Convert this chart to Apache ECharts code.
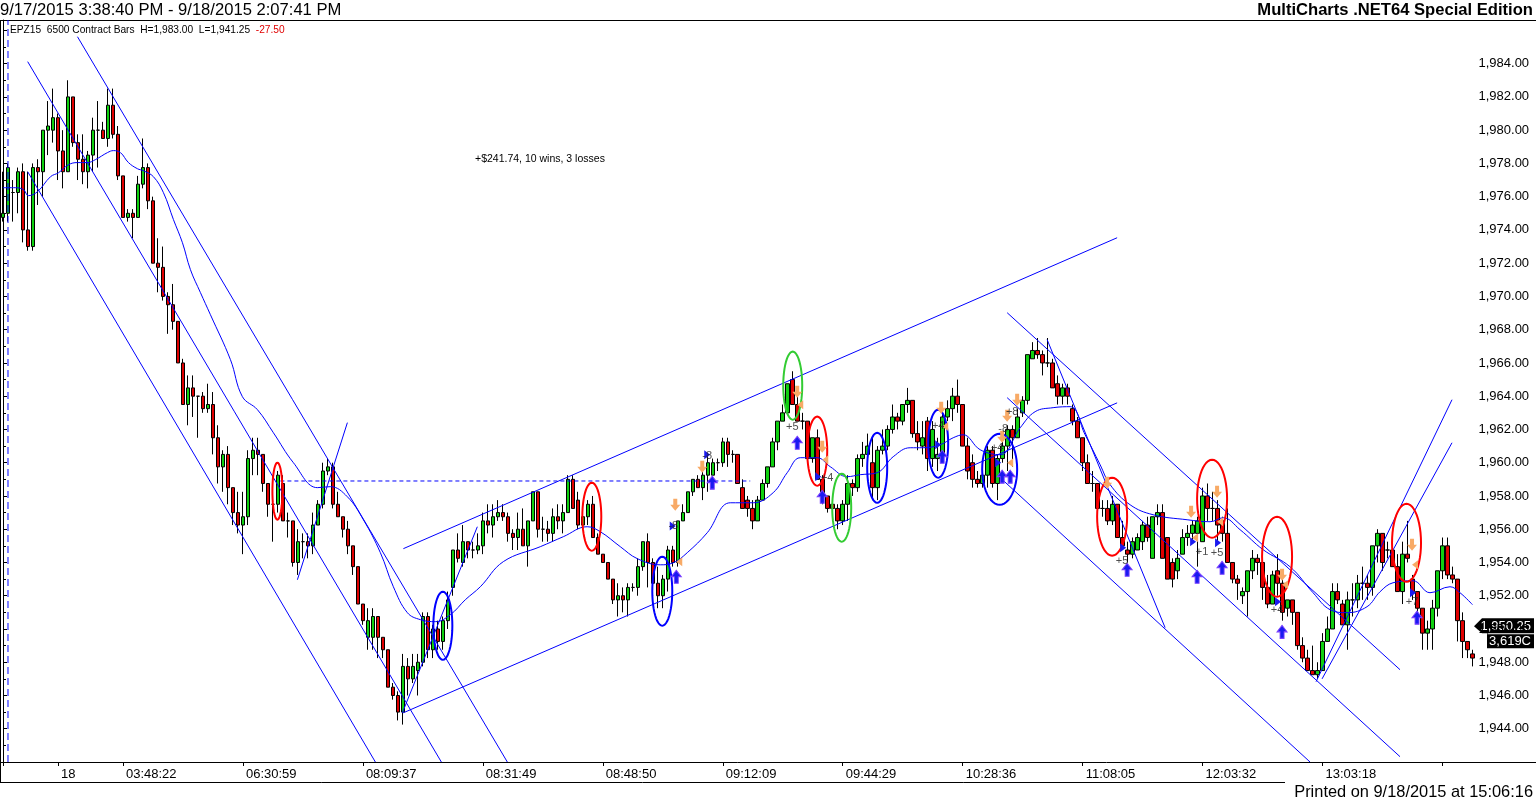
<!DOCTYPE html>
<html><head><meta charset="utf-8">
<script src="https://cdn.jsdelivr.net/npm/echarts@6/dist/echarts.min.js"></script>
<style>html,body{margin:0;padding:0;background:#fff;}#c{width:1536px;height:801px;}</style>
</head><body><div id="c"></div>
<script>
// ---------- DATA ----------
const opens = [1974.75,1975,1976.25,1976.25,1977.5,1974,1973,1977.75,1977.5,1980,
1980,1980.75,1978.75,1977.5,1982,1979.25,1978.25,1977.5,1978.5,1980,
1980,1979.5,1981.5,1979.75,1977.25,1974.75,1975,1974.75,1976.75,1977.75,
1975.75,1972,1971.75,1970,1969.5,1968.5,1966,1963.5,1964.5,1964,
1964,1963.25,1963.5,1961.5,1959.75,1960.5,1958.5,1957,1956.25,1956.75,
1960.25,1960.75,1960.5,1958.75,1957.5,1957.5,1958.75,1956.5,1956.5,1954,
1955.25,1955.25,1955,1956.25,1957.5,1959.5,1959.75,1957.5,1956.75,1956,
1955,1953.75,1951.5,1949.5,1949.5,1950.75,1949.5,1948.75,1946.5,1946,
1945,1947.75,1947,1947.5,1948,1950.75,1948.75,1950,1949.25,1950.5,
1952.5,1954.75,1954,1955.25,1954.75,1954.75,1955,1956.5,1956.25,1956.75,
1957,1956.75,1955.75,1955.5,1956,1955,1956.5,1958.25,1956,1956,
1955.75,1956.75,1956.5,1957,1959,1957.75,1956.25,1956.75,1957.5,1955.5,
1954.5,1954,1953,1951.75,1952,1951.75,1952.5,1952.5,1953.75,1955.25,
1954,1952.75,1952,1953,1954.75,1954,1956.5,1957,1958.25,1959,
1958.5,1959.25,1959.25,1960,1960,1961.25,1960.5,1960.5,1958.5,1957.75,
1957.25,1956.5,1957.75,1958.75,1959.75,1961.25,1962.5,1963,1965,1963.5,
1962.5,1962.5,1960.25,1961.5,1959,1958,1957.5,1957.25,1956.5,1957.5,
1958.75,1958.5,1960.25,1960.5,1960,1958.5,1960.75,1961,1962,1962.75,
1962.5,1963.5,1963.75,1961.75,1961,1962.5,1960.25,1960.25,1960.5,1962.75,
1963.25,1964,1963.5,1961,1960,1959,1958.75,1959.25,1960.75,1958.75,
1960.25,1961,1962,1961.5,1963,1963.75,1966.25,1966.75,1966.5,1966,
1966,1964.75,1964,1964.5,1963.25,1962.5,1961.5,1960,1958.75,1958.75,
1957.25,1957.25,1956.5,1957.5,1955.5,1954.75,1954.5,1954.75,1955.25,1956.25,
1954.25,1956.75,1957,1955.5,1954,1953.5,1954.5,1955.5,1955.75,1955.75,
1955.25,1958,1957.25,1957.25,1956.5,1955.75,1954,1953,1952,1952.25,
1953.5,1954.25,1954,1952.5,1951.5,1953.5,1952.75,1951.25,1951.75,1951,
1949,1948.25,1947.5,1947.25,1947.5,1949.25,1950,1952.25,1951.5,1950.25,
1951.75,1951.75,1952.75,1952.75,1952.5,1955,1955.75,1954.75,1954.75,1953.75,
1952.25,1954.5,1953,1952.25,1951.25,1949.75,1950,1951.25,1953.5,1955,
1953.25,1953,1950.5,1949.25,1948.5];
const highs = [1977.5,1978,1977,1977.75,1978,1977.5,1978,1978.25,1980,1981.75,
1982.5,1981,1980,1983,1982,1979.75,1979.75,1978.75,1980.75,1981.75,
1980.5,1982.5,1982.5,1980.25,1977.25,1975.25,1975.25,1977.25,1979.5,1978,
1976,1973.5,1973,1970.25,1970.75,1968.5,1966.25,1965.25,1965.25,1964,
1964.25,1964.75,1964.25,1962.25,1960.75,1961,1958.5,1958.25,1958.25,1960.75,
1961.5,1961.5,1960.5,1958.75,1959.25,1959.5,1959.25,1957,1956.5,1956,
1955.75,1955.75,1957,1957.75,1960,1960.25,1960,1958.25,1956.75,1956.5,
1955,1953.75,1951.5,1951.25,1951.25,1950.75,1949.5,1948.75,1946.75,1946.25,
1948.5,1948.25,1948.5,1948.5,1951,1951,1950.25,1950.5,1950.75,1952.25,
1954.75,1955.75,1956.25,1955.25,1955.25,1955.75,1957,1957.5,1957.5,1957.75,
1957.5,1957,1956,1957,1957.25,1956.5,1958.25,1958.25,1956.75,1956.5,
1957.25,1957.5,1957.5,1959.25,1959.25,1958.25,1957,1957.75,1958,1955.75,
1954.5,1954,1953,1952.75,1952.5,1952.75,1952.75,1954.25,1955.25,1955.75,
1954.25,1953.75,1953.25,1955,1955,1956.5,1957.5,1958.25,1959,1959.25,
1959.75,1960.5,1960.25,1960.25,1961.5,1961.5,1960.75,1960.5,1959,1958,
1957.75,1958,1959,1959.75,1961.5,1962.5,1963.5,1964.75,1965.5,1964,
1963,1962.5,1961.5,1962,1959.25,1958,1957.75,1957.5,1957.75,1959.25,
1959,1960.5,1961.25,1961.75,1961.5,1961,1962,1962.25,1963.5,1963,
1963.5,1964.5,1963.75,1962.5,1962.5,1962.75,1962.5,1961.5,1963,1963.75,
1964.5,1965,1963.5,1961.5,1960.5,1959.5,1959.5,1961,1961,1960.5,
1961.75,1962.25,1962.25,1963.25,1964,1966.5,1967.25,1967.5,1966.75,1967.5,
1966.25,1965.25,1964.75,1964.75,1963.5,1962.75,1961.5,1960.5,1959.5,1958.75,
1957.75,1957.75,1958,1957.5,1956.5,1955.25,1955.5,1955.75,1956.5,1956.75,
1956.75,1957.5,1957.5,1955.5,1954.25,1954.75,1956,1956.25,1956.5,1956.75,
1958.5,1958.75,1958.25,1957.75,1956.75,1957.25,1954,1953.25,1952.5,1953.5,
1954.75,1954.5,1954.25,1953.25,1953.5,1954.5,1953,1951.75,1951.75,1951,
1949.5,1948.75,1949,1948,1949.75,1950.75,1952.75,1952.75,1951.75,1952.25,
1952.75,1953.25,1953.75,1953.25,1955,1956,1955.75,1955.25,1955.25,1954.5,
1955.25,1956.5,1953.25,1952.25,1951.25,1950.5,1951.75,1953.5,1955.5,1955.5,
1953.75,1953,1951,1949.25,1948.75];
const lows = [1974.5,1974.5,1974.5,1975,1973.25,1972.75,1972.75,1975.5,1976,1978.5,
1979.25,1977,1976.5,1977.5,1979,1977,1976.75,1976.5,1977.5,1977.75,
1979.5,1979,1979.5,1977,1974.75,1974.5,1973.5,1974.75,1976.5,1975.25,
1972,1970.25,1969.75,1967.75,1968,1966,1963.5,1962.25,1962.75,1961.5,
1963,1963,1960.5,1958.75,1958.25,1957.5,1956.25,1955.75,1954.5,1956.25,
1959.25,1959.25,1958.25,1956.75,1955.25,1957,1956.5,1955.5,1953.75,1953.25,
1954.25,1954.25,1954.5,1956.25,1957.25,1959.25,1957.25,1956.75,1955.5,1954.5,
1953.25,1951.5,1950.25,1948.75,1948.75,1948.25,1948.25,1946.5,1945.75,1944.5,
1944.25,1946,1946.75,1946,1947.75,1948.25,1948.25,1948.75,1948.75,1950,
1952,1954,1953.75,1954.25,1954.25,1954.5,1954.5,1955.75,1955.5,1956.5,
1956.5,1955.25,1954.75,1954.75,1955,1953.75,1956.5,1955.5,1955.25,1955.25,
1955.25,1956,1955.75,1957,1957.25,1956,1956,1956.25,1955.5,1954.5,
1954,1953,1951.5,1950.75,1951,1950.75,1952.25,1952,1953.5,1952.5,
1952,1951.25,1951.25,1952.25,1953.75,1953.75,1956.5,1957,1958,1958.5,
1957.75,1958.25,1959.25,1959.5,1959.75,1959.75,1960,1958.75,1957.25,1956.75,
1956,1956.5,1957.75,1958.5,1959.75,1960.75,1962.5,1963,1963.5,1962.5,
1962,1960.25,1960,1959,1957.5,1957,1956.75,1956,1956.25,1956.5,
1958,1958.25,1959.75,1960.25,1957.75,1957.75,1960.5,1960.75,1961.75,1962,
1962.25,1963,1961.5,1960.75,1960.5,1959.5,1959.75,1959.5,1960.25,1962.5,
1962.5,1963,1961,1959,1958.5,1958.5,1958.5,1958.5,1958.5,1957.75,
1960,1959.5,1959.75,1961.5,1962.75,1963.5,1966.25,1966.25,1965.25,1965.75,
1964.5,1963.5,1963.5,1963.5,1962.25,1961.5,1959.5,1958.75,1958.25,1957,
1956.75,1956.25,1956.25,1955.5,1954.75,1954,1954.25,1954.75,1954.75,1955.25,
1954.25,1956.25,1954.25,1953,1952.5,1953,1954.5,1955,1955.25,1953.75,
1955.25,1956.5,1956.5,1955.25,1955.25,1954,1952.75,1951.75,1951.5,1950.75,
1953,1953.25,1951.75,1951.25,1951.5,1952,1950.5,1950.75,1950.25,1948.75,
1948,1947.5,1947.25,1947,1947.5,1949.25,1950,1951.5,1950.25,1948.75,
1950.75,1951.25,1951.75,1951.75,1952,1954,1953.5,1954.25,1953.75,1952.25,
1951.5,1954,1951.75,1951,1948.75,1948.75,1948.75,1950.75,1953,1953,
1952.75,1949.25,1948.25,1948.25,1947.75];
const closes = [1975,1977.75,1976.25,1977.5,1974,1973,1977.75,1977.5,1980,1980.25,
1980.75,1978.75,1977.5,1982,1979.25,1978.25,1977.5,1978.5,1980,1980,
1979.5,1981.5,1979.75,1977.25,1974.75,1975,1974.75,1976.75,1977.75,1975.75,
1972,1971.75,1970,1969.5,1968.5,1966,1963.5,1964.5,1964,1964,
1963.25,1963.5,1961.5,1959.75,1960.5,1958.5,1957,1956.25,1956.75,1960.25,
1960.75,1960.5,1958.75,1957.5,1957.5,1959.25,1956.5,1956.5,1954,1955.25,
1955.25,1955,1956.25,1957.5,1959.5,1959.75,1957.5,1956.75,1956,1955,
1953.75,1951.5,1950.5,1950.5,1950.75,1949.5,1948.75,1946.5,1946,1945,
1947.75,1947,1947.75,1948,1950.75,1948.75,1950,1949.25,1950.5,1951.75,
1954.75,1954.25,1955.25,1954.75,1954.75,1955,1956.5,1956.25,1956.75,1957,
1956.75,1955.75,1955.5,1956,1955,1956.5,1958.25,1956,1956,1955.75,
1956.75,1956.5,1957,1959,1957.25,1956.25,1956.75,1957.5,1955.5,1954.5,
1954,1953,1951.75,1952,1951.75,1952.5,1952.5,1953.75,1955.25,1954,
1952.75,1952,1953,1954.75,1954,1956.5,1957,1958.25,1959,1958.5,
1959.25,1960,1960,1960,1961.25,1960.5,1960.5,1958.75,1957.25,1957.25,
1956.5,1957.75,1958.75,1959.75,1961.25,1962.5,1963,1964.75,1963.5,1962.5,
1962.5,1960.25,1961.5,1959,1958,1957.25,1957.25,1956.5,1957.5,1958.75,
1958.5,1960.25,1960.5,1961,1958.5,1960.75,1961,1962,1962.75,1962.5,
1963.5,1963.75,1961.75,1961.25,1961.5,1960.25,1962,1960.5,1962.75,1963.25,
1964,1963.5,1961,1959.5,1959,1958.75,1959.25,1960.75,1958.75,1960.25,
1961,1962,1961.5,1962.75,1963.75,1966.5,1966.75,1966.5,1966,1966,
1964.5,1964,1964.5,1964,1962.5,1961.5,1960,1958.75,1958.75,1957.25,
1957.25,1956.5,1957.5,1955.5,1955,1954.5,1955.25,1955.5,1956.25,1955.5,
1956.75,1957,1954.25,1953,1953,1954.25,1955.5,1955.75,1956.25,1956.5,
1958,1957.25,1957.25,1956.25,1955.75,1954,1953,1952.75,1952.25,1953.5,
1954.25,1954,1952.5,1951.5,1953.25,1952.75,1951,1951.75,1951,1949,
1948.25,1947.5,1947.25,1947.5,1949.25,1950,1952.25,1951.75,1950.25,1951.75,
1951.75,1952.75,1952.75,1952.5,1955,1955.75,1954,1954.75,1953.75,1952.25,
1954.5,1954.25,1952.25,1951.25,1949.75,1950,1951.25,1953.5,1955,1953.25,
1953,1950.5,1949.25,1948.75,1948.25];

// x-axis ticks and labels (bar index -> text)
const tickBars   = [0, 11, 24, 48, 72, 96, 120, 144, 168, 192, 216, 240, 264, 288];
const tickLabels = ['', '18', '03:48:22', '06:30:59', '08:09:37', '08:31:49', '08:48:50', '09:12:09', '09:44:29', '10:28:36', '11:08:05', '12:03:32', '13:03:18', ''];

// moving average [bar, price]
const maPoints = [[0,1976.54],[2.5,1976.54],[4.1,1976.42],[5.1,1976.06],[6.9,1976.3],[9.5,1977.2],[11.1,1977.44],[13.1,1977.92],[14.9,1978.05],[16.9,1978.05],[18.5,1978.23],[20.9,1978.65],[22.1,1978.77],[23.5,1978.65],[25.1,1978.05],[26.9,1977.68],[28.1,1977.56],[30.1,1977.2],[32.1,1976.24],[34.1,1974.62],[35.9,1973.23],[37.5,1971.61],[39.5,1970.23],[41.5,1968.9],[45.5,1966.2],[47.9,1963.97],[50.9,1963.19],[54.1,1961.8],[58.1,1960.0],[62.9,1958.5],[65.5,1958.56],[68.9,1957.95],[72.1,1956.57],[75.5,1954.59],[78.1,1952.54],[80.9,1950.98],[83.5,1950.56],[86.5,1950.44],[89.5,1950.86],[92.5,1951.76],[95.5,1952.54],[100.1,1954.05],[107.5,1954.95],[112.1,1955.55],[116.9,1956.15],[119.5,1955.85],[123.5,1954.95],[126.9,1954.23],[131.5,1953.86],[134.1,1953.98],[136.9,1954.59],[140.9,1955.79],[145.5,1957.59],[150.1,1957.59],[154.1,1958.2],[156.9,1959.4],[159.5,1960.3],[162.9,1960.3],[165.5,1959.76],[168.9,1959.16],[171.5,1959.28],[174.9,1959.4],[178.1,1960.36],[181.5,1960.9],[184.1,1960.9],[187.5,1961.08],[190.1,1961.5],[192.1,1961.68],[195.5,1960.78],[199.5,1960.48],[203.5,1962.1],[206.5,1963.07],[210.1,1963.31],[213.5,1963.37],[216.5,1961.68],[219.5,1959.88],[221.5,1958.68],[225.5,1957.47],[230.1,1956.87],[236.9,1956.57],[241.5,1956.45],[244.1,1956.69],[247.5,1955.97],[252.1,1954.77],[257.5,1953.74],[262.1,1952.18],[265.5,1951.16],[268.9,1950.98],[272.9,1951.34],[275.5,1952.24],[278.1,1952.78],[282.1,1952.9],[285.5,1952.18],[289.5,1952.54],[291.5,1952.18],[294,1951.46]];

// trend lines [bar1, price1, bar2, price2]
const trendLines = [
 [14.9,1985.62,100.9,1942],[4.94,1984.12,87.7,1942],[4.94,1977.5,74.5,1942],
 [58.9,1952.96,68.9,1962.41],[79.9,1944.96,94.9,1956.15],
 [80.1,1954.83,222.9,1973.53],[80.1,1944.96,222.9,1963.6],
 [200.9,1969.02,279.5,1947.55],[200.9,1963.91,279.5,1942.32],[199.5,1959.1,261.5,1942],
 [208.9,1967.4,232.5,1950.08],[262.7,1946.83,289.9,1963.79],[263.9,1947.0,289.9,1961.2]
];
const refLevel = [55.5, 149.5, 1958.9];   // dotted level: from bar, to bar, price
const sessionBar = 1;

// ellipses [bar from, bar to, price low, price high]
const ellipses = [[53.9,55.9,1956.57,1960.0],[86.1,89.9,1948.15,1952.24],[115.9,119.7,1954.71,1958.8],[129.9,133.9,1950.2,1954.35],[156.1,159.9,1962.59,1966.68],[160.9,164.9,1958.62,1962.77],[165.9,169.7,1955.25,1959.34],[172.9,176.9,1957.59,1961.8],[185.1,189.1,1959.1,1963.19],[195.9,202.9,1957.47,1961.74],[218.9,224.9,1954.41,1959.1],[238.9,244.9,1955.49,1960.18],[251.9,257.9,1951.94,1956.75],[277.9,283.7,1952.84,1957.53]];
const ellipseKinds = ['red','blue','red','blue','green','red','green','blue','blue','blue','red','red','red','red'];

// signals [bar, price]
const sellArrows = [[134.5,1957.47],[139.9,1959.76],[158.9,1964.27],[163.9,1960.96],[187.7,1963.31],[202.9,1963.79],[200.9,1962.83],[199.9,1961.56],[220.9,1958.8],[237.7,1957.05],[242.9,1958.26],[255.9,1953.26],[281.9,1955.07]];
const buyArrows = [[134.7,1953.14],[141.9,1958.8],[158.9,1961.2],[163.9,1957.95],[187.9,1960.36],[199.9,1959.16],[201.5,1959.16],[224.9,1953.56],[238.9,1953.14],[243.9,1953.68],[255.9,1949.83],[282.9,1950.68]];
const exitMarks = [[159.5,1963.49],[164.5,1960.18],[188.5,1962.17],[201.5,1960.0],[238.5,1955.49],[243.5,1956.45],[256.5,1952.66],[282.5,1953.86],[135.3,1954.05]];
const entryMarks = [[140.9,1960.48],[163.1,1959.16],[187.1,1961.08],[199.1,1960.0],[224.1,1954.89],[238.1,1955.25],[243.1,1955.19],[255.1,1951.64],[282.1,1952.18],[134.0,1956.2]];
const tradeLabels = [[157.9,1962.17,'+5'],[164.9,1959.1,'+4'],[187.1,1962.23,'+4'],[140.9,1960.42,'-8'],[134.1,1956.2,'-8'],[200.1,1962.05,'-8'],[201.9,1963.07,'+8'],[198.9,1960.9,'+4'],[223.9,1954.1,'+5'],[239.9,1954.65,'+1'],[242.9,1954.59,'+5'],[254.9,1951.16,'+4'],[281.9,1951.64,'+7']];

const lastPrice = 1950.25;
const yMin = 1942, yMax = 1986.625;

// ---------- CHART ----------
const N = opens.length;
const categories = opens.map((_, i) => String(i));
const candleData = opens.map((o, i) => [o, closes[i], lows[i], highs[i]]);
const FONT = 'Liberation Sans, Arial, sans-serif';
const ellColor = {red:'#ff0000', blue:'#0000ff', green:'#33cc33'};

const series = [];
series.push({
  type:'candlestick', data:candleData, barWidth:4,
  itemStyle:{color:'#10d010', color0:'#e00000', borderColor:'#000', borderColor0:'#000', borderWidth:1},
  z:2
});
series.push({type:'line', xAxisIndex:1, data:maPoints, smooth:0.4, symbol:'none',
  lineStyle:{color:'#0000ff', width:1}, z:3, silent:true});
trendLines.forEach(t => series.push({type:'line', xAxisIndex:1, data:[[t[0],t[1]],[t[2],t[3]]],
  symbol:'none', lineStyle:{color:'#0000ff', width:1}, z:3, silent:true}));
series.push({type:'line', xAxisIndex:1, data:[[refLevel[0],refLevel[2]],[refLevel[1],refLevel[2]]],
  symbol:'none', lineStyle:{color:'#0000ff', width:1, type:[4,3]}, z:3});
series.push({type:'line', xAxisIndex:1, data:[[sessionBar,yMin],[sessionBar,yMax]],
  symbol:'none', lineStyle:{color:'#0000ff', width:1, type:[7,4]}, z:3});
series.push({type:'custom', xAxisIndex:1, data:ellipses, z:4, clip:false,
  renderItem(params, api){
    const p1 = api.coord([api.value(0), api.value(3)]);
    const p2 = api.coord([api.value(1), api.value(2)]);
    const cx=(p1[0]+p2[0])/2, cy=(p1[1]+p2[1])/2, rx=Math.abs(p2[0]-p1[0])/2, ry=Math.abs(p2[1]-p1[1])/2;
    const pts=[]; for(let k=0;k<48;k++){const a=k/48*Math.PI*2; pts.push([cx+rx*Math.cos(a), cy+ry*Math.sin(a)]);}
    return {type:'polygon', shape:{points:pts}, style:{fill:'none', stroke:ellColor[ellipseKinds[params.dataIndex]], lineWidth:2}};
  }});
series.push({type:'scatter', xAxisIndex:1, data:sellArrows, z:5,
  symbol:'path://M3,0 L7,0 L7,6 L10,6 L5,12 L0,6 L3,6 Z', symbolSize:[10,12],
  itemStyle:{color:'#f8aa66', opacity:1}});
series.push({type:'scatter', xAxisIndex:1, data:buyArrows, z:5,
  symbol:'path://M5,0 L10,6 L7,6 L7,12 L3,12 L3,6 L0,6 Z', symbolSize:[10,13],
  itemStyle:{color:'#1a1af0', borderColor:'#7a40ff', borderWidth:1, opacity:1}});
series.push({type:'scatter', xAxisIndex:1, data:exitMarks, z:5,
  symbol:'path://M6,0 L6,10 L0,5 Z', symbolSize:[6,9], itemStyle:{color:'#f8aa66', opacity:1}});
series.push({type:'scatter', xAxisIndex:1, data:entryMarks, z:5,
  symbol:'path://M0,0 L6,5 L0,10 Z', symbolSize:[6,9], itemStyle:{color:'#1a1af0', opacity:1}});
series.push({type:'scatter', xAxisIndex:1, z:6, symbolSize:1, itemStyle:{color:'rgba(0,0,0,0)'},
  data: tradeLabels.map(t => ({value:[t[0], t[1]], name:t[2]})),
  label:{show:true, position:'inside', formatter:p=>p.name, fontSize:11, fontFamily:FONT, color:'#222'}});

const option = {
  animation:false,
  backgroundColor:'#fff',
  grid:{left:0, top:20, width:1475, height:742, containLabel:false},
  xAxis:[{
    type:'category', data:categories, boundaryGap:true,
    axisLine:{lineStyle:{color:'#000', width:1}},
    axisTick:{show:true, alignWithLabel:true, length:4, interval:(i)=>tickBars.includes(i), lineStyle:{color:'#000'}},
    axisLabel:{interval:(i)=>tickBars.includes(i), formatter:(v,i)=>{const k=tickBars.indexOf(Number(v)); return k>=0?tickLabels[k]:'';},
      align:'left', padding:[0,0,0,3], margin:6, color:'#000', fontSize:13, fontFamily:FONT},
    splitLine:{show:false}
  },{
    type:'value', min:-0.5, max:N-0.5, show:false
  }],
  yAxis:{
    type:'value', position:'right', offset:-2.5, min:yMin, max:yMax, interval:2, scale:true,
    axisLine:{show:true, lineStyle:{color:'#000'}},
    axisTick:{show:true, length:4, lineStyle:{color:'#000'}},
    minorTick:{show:true, splitNumber:2, length:3, lineStyle:{color:'#000'}},
    splitLine:{show:false},
    axisLabel:{margin:6, color:'#000', fontSize:13, fontFamily:FONT,
      formatter:(v)=>{ if (v < 1943 || v > 1985 || Math.abs(v/2 - Math.round(v/2))>1e-6) return '';
        return v.toLocaleString('en-US',{minimumFractionDigits:2, maximumFractionDigits:2}); }}
  },
  series
};

const chart = echarts.init(document.getElementById('c'));
chart.setOption(option);

const py = chart.convertToPixel({yAxisIndex:0}, lastPrice) + 1.5;
const graphics = [
  {type:'line', shape:{x1:0, y1:20.5, x2:1536, y2:20.5}, style:{stroke:'#000', lineWidth:1}},
  {type:'line', shape:{x1:0.5, y1:20, x2:0.5, y2:782}, style:{stroke:'#000', lineWidth:1}},
  {type:'line', shape:{x1:1470, y1:762.5, x2:1536, y2:762.5}, style:{stroke:'#000', lineWidth:1}},
  {type:'line', shape:{x1:0, y1:782.5, x2:1285, y2:782.5}, style:{stroke:'#000', lineWidth:1}},
  {type:'text', x:0, y:10, style:{text:'9/17/2015 3:38:40 PM - 9/18/2015 2:07:41 PM', font:'16.6px '+FONT, fill:'#000', textVerticalAlign:'middle'}},
  {type:'text', x:1533, y:10, style:{text:'MultiCharts .NET64 Special Edition', font:'bold 16.6px '+FONT, fill:'#000', textAlign:'right', textVerticalAlign:'middle'}},
  {type:'text', x:10, y:30, style:{text:'{a|EPZ15  6500 Contract Bars  H=1,983.00  L=1,941.25}{b|  -27.50}', fill:'#000', textVerticalAlign:'middle',
     rich:{a:{fontSize:10.2, fontFamily:FONT, fill:'#000'}, b:{fontSize:10.2, fontFamily:FONT, fill:'#e00000'}}}},
  {type:'text', x:475, y:159, style:{text:'+$241.74, 10 wins, 3 losses', font:'10.5px '+FONT, fill:'#000', textVerticalAlign:'middle'}},
  {type:'text', x:1533, y:792, style:{text:'Printed on 9/18/2015 at 15:06:16', font:'16.4px '+FONT, fill:'#000', textAlign:'right', textVerticalAlign:'middle'}},
  {type:'polygon', shape:{points:[[1474,py],[1482,py-8],[1534,py-8],[1534,py+7],[1482,py+7]]}, style:{fill:'#000'}},
  {type:'text', x:1531, y:py, style:{text:'1,950.25', font:'13px '+FONT, fill:'#fff', textAlign:'right', textVerticalAlign:'middle'}},
  {type:'rect', shape:{x:1487, y:py+8, width:47, height:14}, style:{fill:'#000'}},
  {type:'text', x:1531, y:py+15, style:{text:'3,619C', font:'13px '+FONT, fill:'#fff', textAlign:'right', textVerticalAlign:'middle'}}
];
chart.setOption({graphic:graphics});
</script></body></html>
